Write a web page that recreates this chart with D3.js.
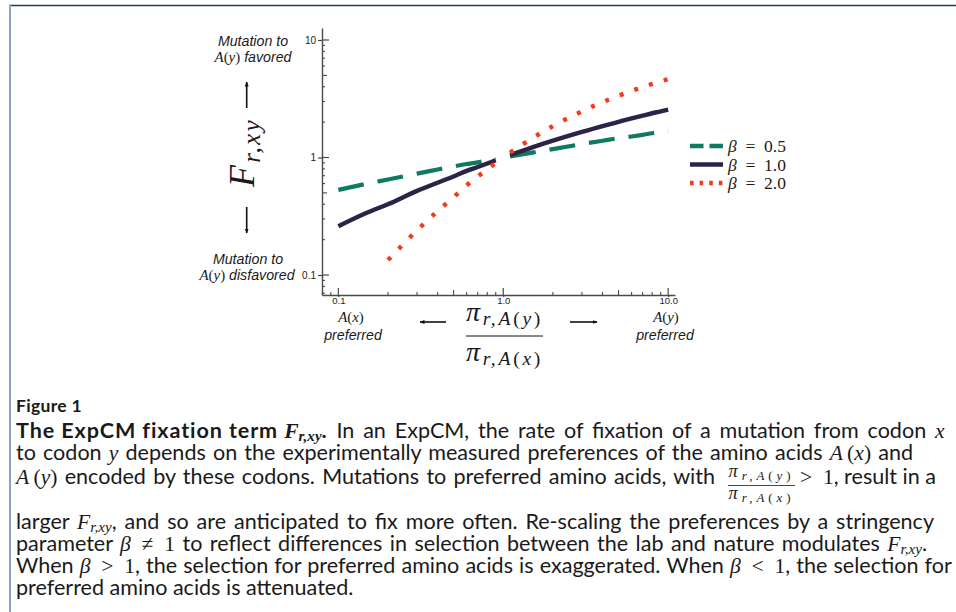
<!DOCTYPE html>
<html><head><meta charset="utf-8">
<script src="https://cdn.jsdelivr.net/npm/d3@7"></script>
<style>body{margin:0;background:#fff}svg{display:block}</style>
</head><body>
<svg id="c" width="956" height="612"></svg>
<script>
// ---------- data ----------
const ratioLeft  = [0.1, 0.15, 0.2, 0.3, 0.4, 0.5, 0.6, 0.7, 0.8, 0.9];
const ratioRight = [1.1, 1.5, 2, 3, 4, 5, 6, 7, 8, 9, 10];
const beta05Left  = [0.53, 0.60, 0.65, 0.73, 0.79, 0.84, 0.88, 0.91, 0.95, 0.97];
const beta05Right = [1.02, 1.10, 1.18, 1.30, 1.39, 1.46, 1.51, 1.56, 1.61, 1.65, 1.68];
const beta10Left  = [0.26, 0.34, 0.40, 0.52, 0.61, 0.69, 0.77, 0.83, 0.89, 0.95];
const beta10Right = [1.05, 1.22, 1.39, 1.65, 1.85, 2.01, 2.15, 2.27, 2.38, 2.47, 2.56];
const beta20Left  = [null, null, 0.134, 0.24, 0.35, 0.46, 0.58, 0.69, 0.79, 0.90];
const beta20Right = [1.10, 1.46, 1.85, 2.47, 2.96, 3.35, 3.69, 3.97, 4.23, 4.45, 4.65];
const seriesNames = ["0.5", "1.0", "2.0"];
const xTickValues = [0.1, 1, 10];
const xTickLabels = ["0.1", "1.0", "10.0"];
const yTickValues = [0.1, 1, 10];
const yTickLabels = ["0.1", "1", "10"];

// ---------- styles ----------
const STY = {
  s:    {fam:"Lato", style:"normal", weight:400},
  sb:   {fam:"Lato", style:"normal", weight:700, ls:0.9},
  m:    {fam:"Liberation Serif", style:"italic", weight:400},
  r:    {fam:"Liberation Serif", style:"normal", weight:400},
  ml:   {fam:"Liberation Serif", style:"italic", weight:400, scale:1.05},
  rl:   {fam:"Liberation Serif", style:"normal", weight:400, scale:1.05},
  mb:   {fam:"Liberation Serif", style:"italic", weight:700},
  msub: {fam:"Liberation Serif", style:"italic", weight:400, scale:0.7, shift:0.16},
  rsub: {fam:"Liberation Serif", style:"normal", weight:400, scale:0.7, shift:0.16},
  mbsub:{fam:"Liberation Serif", style:"italic", weight:700, scale:0.7, shift:0.16},
  hi:   {fam:"Liberation Sans", style:"italic", weight:400}
};
function rich(parent, x, y, fs, segs, anchor) {
  const t = parent.append("text").attr("x", x).attr("y", y).attr("font-size", fs)
    .attr("fill", "#1a1a1a").attr("text-anchor", anchor || "start").style("white-space", "pre");
  let shift = 0;
  segs.forEach(([f, txt]) => {
    const st = STY[f];
    const ts = t.append("tspan").text(txt).attr("font-family", st.fam)
      .attr("font-style", st.style).attr("font-weight", st.weight);
    if (st.ls) ts.attr("letter-spacing", st.ls + "px");
    const sc = st.scale || 1;
    if (sc !== 1) ts.attr("font-size", (sc * 100) + "%");
    const tg = st.shift || 0;
    const d = tg - shift;
    if (Math.abs(d) > 1e-9) ts.attr("dy", (d / sc) + "em");
    shift = tg;
  });
  return t;
}
function fit(t, target) {
  const w = t.node().getBBox().width;
  t.attr("font-size", (+t.attr("font-size")) * target / w);
  return t;
}
function spread(t, target) {
  const w = t.node().getBBox().width;
  const n = t.text().length;
  t.attr("letter-spacing", Math.max(0, (target - w) / n) + "px");
  return t;
}

const svg = d3.select("#c");
svg.append("rect").attr("width", 956).attr("height", 612).attr("fill", "#fff");
// frame
svg.append("line").attr("x1", 9).attr("x2", 956).attr("y1", 5.5).attr("y2", 5.5)
  .attr("stroke", "#1d3a5c").attr("stroke-width", 1.3);
svg.append("line").attr("x1", 10).attr("x2", 10).attr("y1", 5).attr("y2", 612)
  .attr("stroke", "#8da2c0").attr("stroke-width", 2);

// ---------- scales ----------
const x = d3.scaleLog().domain([0.0796, 11.0]).range([322, 675]);
const y = d3.scaleLog().domain([0.0676, 12.65]).range([295, 28]);
const AX = "#4a4a4a";

// axes
const yAxis = svg.append("g").attr("transform", "translate(322,0)")
  .call(d3.axisLeft(y).tickValues(yTickValues).tickFormat((d, i) => yTickLabels[i])
    .tickSize(4).tickSizeOuter(0).tickPadding(2));
const xAxis = svg.append("g").attr("transform", "translate(0,295)")
  .call(d3.axisBottom(x).tickValues(xTickValues).tickFormat((d, i) => xTickLabels[i])
    .tickSize(2).tickSizeOuter(0).tickPadding(0));
[yAxis, xAxis].forEach(g => {
  g.select(".domain").attr("stroke", AX).attr("stroke-width", 1.4);
  g.selectAll(".tick line").attr("stroke", AX).attr("stroke-width", 1.2);
  g.selectAll("text").attr("font-family", "Liberation Sans").attr("font-size", 10).attr("fill", "#222");
});
xAxis.selectAll("text").attr("y", 8.5).attr("dy", "0").attr("font-size", 9.5);

// inward ticks
const minorVals = [];
[0.01, 0.1, 1, 10].forEach(dec => { for (let k = 2; k <= 9; k++) minorVals.push(+(k * dec).toPrecision(3)); });
const yDom = y.domain(), xDom = x.domain();
const yMinor = minorVals.filter(v => v > yDom[0] && v < yDom[1]);
const xMinor = minorVals.filter(v => v > xDom[0] && v < xDom[1]);
const tickLen = v => (Math.abs(v / Math.pow(10, Math.floor(Math.log10(v) + 1e-9)) - 5) < 1e-6 ? 5 : 3);
svg.append("g").selectAll("line").data(yMinor).join("line")
  .attr("x1", 322).attr("x2", d => 322 + tickLen(d)).attr("y1", d => y(d)).attr("y2", d => y(d))
  .attr("stroke", AX).attr("stroke-width", 1.1);
svg.append("g").selectAll("line").data(yTickValues).join("line")
  .attr("x1", 322).attr("x2", 329).attr("y1", d => y(d)).attr("y2", d => y(d))
  .attr("stroke", AX).attr("stroke-width", 1.2);
svg.append("g").selectAll("line").data(xMinor).join("line")
  .attr("y1", 295).attr("y2", d => 295 - tickLen(d)).attr("x1", d => x(d)).attr("x2", d => x(d))
  .attr("stroke", AX).attr("stroke-width", 1.1);
svg.append("g").selectAll("line").data(xTickValues).join("line")
  .attr("y1", 295).attr("y2", 288).attr("x1", d => x(d)).attr("x2", d => x(d))
  .attr("stroke", AX).attr("stroke-width", 1.2);

// ---------- series ----------
const series = [
  {name: seriesNames[0], left: beta05Left, right: beta05Right, color: "#0f7a60", dash: "26,14", w: 4.2, ldash: "13.5,6"},
  {name: seriesNames[1], left: beta10Left, right: beta10Right, color: "#2d2346", dash: null, w: 4.4, ldash: null},
  {name: seriesNames[2], left: beta20Left, right: beta20Right, color: "#f23b1d", dash: "4,11.5", w: 4.4, ldash: "3.6,6"}
];
const line = d3.line().defined(d => d.v != null).x(d => x(d.r)).y(d => y(d.v)).curve(d3.curveMonotoneX);
series.forEach(s => {
  [[ratioLeft, s.left], [ratioRight, s.right]].forEach(([rs, vs]) => {
    const pts = rs.map((r, i) => ({r, v: vs[i]}));
    svg.append("path").datum(pts).attr("d", line).attr("fill", "none")
      .attr("stroke", s.color).attr("stroke-width", s.w)
      .attr("stroke-dasharray", s.dash).attr("stroke-linecap", "butt");
  });
});

// ---------- legend ----------
const legY = [146, 164.5, 183];
series.forEach((s, i) => {
  svg.append("line").attr("x1", 690).attr("x2", 723).attr("y1", legY[i]).attr("y2", legY[i])
    .attr("stroke", s.color).attr("stroke-width", 4.5).attr("stroke-dasharray", s.ldash);
  const t = rich(svg, 728, legY[i] + 6, 17, [["m", "β"], ["r", "\u2002=\u2002" + s.name]]);
  fit(t, 59);
});

// ---------- axis annotations ----------
const FA = 14.2;
rich(svg, 253, 46, FA, [["hi", "Mutation to"]], "middle");
rich(svg, 253, 62, FA, [["ml", "A"], ["rl", "("], ["ml", "y"], ["rl", ")"], ["hi", " favored"]], "middle");
rich(svg, 248, 264, FA, [["hi", "Mutation to"]], "middle");
rich(svg, 247, 280, FA, [["ml", "A"], ["rl", "("], ["ml", "y"], ["rl", ")"], ["hi", " disfavored"]], "middle");

rich(svg, 351, 322, FA, [["ml", "A"], ["rl", "("], ["ml", "x"], ["rl", ")"]], "middle");
rich(svg, 353, 340, FA, [["hi", "preferred"]], "middle");
rich(svg, 666, 322, FA, [["ml", "A"], ["rl", "("], ["ml", "y"], ["rl", ")"]], "middle");
rich(svg, 665, 340, FA, [["hi", "preferred"]], "middle");

// arrows
svg.append("defs").append("marker").attr("id", "ah").attr("viewBox", "0 0 10 10")
  .attr("refX", 9).attr("refY", 5).attr("markerWidth", 5).attr("markerHeight", 5)
  .attr("orient", "auto").attr("markerUnits", "userSpaceOnUse")
  .append("path").attr("d", "M0,1 L10,5 L0,9 Z").attr("fill", "#111");
const arrows = [[246.7, 108, 246.7, 82], [246.7, 207, 246.7, 233], [446, 322, 420, 322], [570, 322, 597, 322]];
arrows.forEach(([x1, y1, x2, y2]) => {
  svg.append("line").attr("x1", x1).attr("y1", y1).attr("x2", x2).attr("y2", y2)
    .attr("stroke", "#111").attr("stroke-width", 1.6).attr("marker-end", "url(#ah)");
});

// y label
const ylab = rich(svg, 0, 0, 36, [["m", "F"], ["msub", "r,xy"]], "middle")
  .attr("transform", "translate(254,152.5) rotate(-90)");
spread(ylab, 71);

// x label fraction
const fracSegs = v => [["m", "π"], ["msub", "r,A"], ["rsub", "("], ["msub", v], ["rsub", ")"]];
const num = rich(svg, 504.5, 321, 28, fracSegs("y"), "middle");
spread(num, 77);
svg.append("line").attr("x1", 466).attr("x2", 543).attr("y1", 336).attr("y2", 336)
  .attr("stroke", "#111").attr("stroke-width", 1);
const den = rich(svg, 504.5, 361, 28, fracSegs("x"), "middle");
spread(den, 77);

// ---------- caption ----------
const X0 = 16;
const cap = svg.append("g");
rich(cap, X0, 412, 17.5, [["sb", "Figure 1"]]).select("tspan").attr("letter-spacing", "0.3px");
const lines = [
  {y: 438, end: 945, segs: [["sb", "The ExpCM fixation term "], ["mb", "F"], ["mbsub", "r,xy"], ["sb", "."], ["s", " In an ExpCM, the rate of fixation of a mutation from codon "], ["m", "x"]]},
  {y: 460, end: 913, segs: [["s", "to codon "], ["m", "y"], ["s", " depends on the experimentally measured preferences of the amino acids "], ["m", "A"], ["r", "\u2009("], ["m", "x"], ["r", ")"], ["s", " and"]]},
  {y: 484, end: 717, segs: [["m", "A"], ["r", "\u2009("], ["m", "y"], ["r", ")"], ["s", " encoded by these codons. Mutations to preferred amino acids, with"]]},
  {y: 529, end: 934, segs: [["s", "larger "], ["m", "F"], ["msub", "r,xy"], ["s", ", and so are anticipated to fix more often. Re-scaling the preferences by a stringency"]]},
  {y: 551, end: 927, segs: [["s", "parameter "], ["m", "β"], ["r", "\u2002≠\u20021"], ["s", " to reflect differences in selection between the lab and nature modulates "], ["m", "F"], ["msub", "r,xy"], ["s", "."]]},
  {y: 573, end: 952, segs: [["s", "When "], ["m", "β"], ["r", "\u2002>\u20021"], ["s", ", the selection for preferred amino acids is exaggerated. When "], ["m", "β"], ["r", "\u2002<\u20021"], ["s", ", the selection for"]]},
  {y: 595, end: null, segs: [["s", "preferred amino acids is attenuated."]]}
];
const probe = rich(cap, X0, 0, 18, lines[1].segs);
const fsCap = 18 * (lines[1].end - X0) / probe.node().getBBox().width * 0.975;
probe.remove();
lines.forEach(L => {
  const t = rich(cap, X0, L.y, fsCap, L.segs);
  if (L.end) {
    const w = t.node().getBBox().width;
    const nsp = L.segs.filter(s => s[0] === "s").map(s => (s[1].match(/ /g) || []).length).reduce((a, b) => a + b, 0);
    t.selectAll("tspan").filter(function() { return this.getAttribute("font-weight") == "400" && this.getAttribute("font-family") == "Lato"; })
      .style("word-spacing", ((L.end - X0 - w) / nsp) + "px");
  }
});
// fraction in caption line 3
const cn = rich(cap, 761.5, 477, 18.5, fracSegs("y"), "middle");
spread(cn, 66);
cap.append("line").attr("x1", 728).attr("x2", 795).attr("y1", 485.5).attr("y2", 485.5)
  .attr("stroke", "#1a1a1a").attr("stroke-width", 0.8);
const cd = rich(cap, 761.5, 499, 18.5, fracSegs("x"), "middle");
spread(cd, 66);
rich(cap, 800, 484, fsCap, [["r", ">\u20021"], ["s", ", result in a"]]);
</script>
</body></html>
